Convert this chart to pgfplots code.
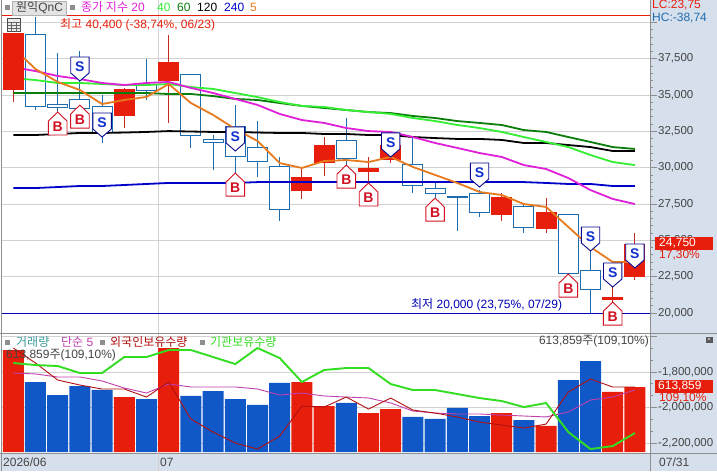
\documentclass[border=0pt]{standalone}
\usepackage{fontspec}
\usepackage{pgfplots}
\pgfplotsset{compat=1.18}
\setmainfont{Liberation Sans}
\newfontfamily\kr{Noto Sans CJK KR}
\definecolor{cred}{HTML}{E81E0C}
\definecolor{wred}{HTML}{C42A20}
\definecolor{cblue}{HTML}{1E6CB0}
\definecolor{vblue}{HTML}{1058C8}
\definecolor{barbg}{HTML}{D5E0EC}
\definecolor{gridc}{HTML}{D2D2D2}
\definecolor{framec}{HTML}{8E8E8E}
\definecolor{txtc}{HTML}{444444}
\definecolor{ma5}{HTML}{E87A1E}
\definecolor{ma20}{HTML}{E020D8}
\definecolor{ma40}{HTML}{33EE33}
\definecolor{ma60}{HTML}{0A7D0A}
\definecolor{ma240}{HTML}{0000C8}
\definecolor{smark}{HTML}{0A0A90}
\definecolor{sglyph}{HTML}{1030D0}
\definecolor{bmark}{HTML}{D01020}
\definecolor{teal2}{HTML}{3A9A9A}
\definecolor{purp}{HTML}{C040B0}
\definecolor{dred}{HTML}{B01010}
\definecolor{lgreen}{HTML}{33DD22}
\definecolor{navyl}{HTML}{0000B4}
% trade markers: the tip sits on the data point
\pgfdeclareplotmark{sellS}{%
  \pgfpathmoveto{\pgfpoint{0pt}{0pt}}%
  \pgfpathlineto{\pgfpoint{9.2pt}{8pt}}%
  \pgfpathlineto{\pgfpoint{9.2pt}{24pt}}%
  \pgfpathlineto{\pgfpoint{-9.2pt}{24pt}}%
  \pgfpathlineto{\pgfpoint{-9.2pt}{8pt}}%
  \pgfpathclose\pgfusepathqfillstroke
  \pgftext[at=\pgfpoint{0pt}{14.5pt}]{\color{sglyph}\fontsize{14}{14}\selectfont\bfseries S}%
}
\pgfdeclareplotmark{buyB}{%
  \pgfpathmoveto{\pgfpoint{0pt}{0pt}}%
  \pgfpathlineto{\pgfpoint{9.3pt}{-9pt}}%
  \pgfpathlineto{\pgfpoint{9.3pt}{-23pt}}%
  \pgfpathlineto{\pgfpoint{-9.3pt}{-23pt}}%
  \pgfpathlineto{\pgfpoint{-9.3pt}{-9pt}}%
  \pgfpathclose\pgfusepathqfillstroke
  \pgftext[at=\pgfpoint{0pt}{-14.5pt}]{\color{bmark}\fontsize{14}{14}\selectfont\bfseries B}%
}
% index, body top, body bottom, high, low
\newcommand{\RC}[5]{%
  \pgfmathsetmacro\xL{#1-0.47}\pgfmathsetmacro\xR{#1+0.47}%
  \addplot[wred,line width=1pt,forget plot] coordinates {(#1,#4)(#1,#5)};
  \addplot[fill=cred,draw=none,forget plot] coordinates {(\xL,#2)(\xR,#2)(\xR,#3)(\xL,#3)} --cycle;
}
\newcommand{\BC}[5]{%
  \pgfmathsetmacro\xL{#1-0.45}\pgfmathsetmacro\xR{#1+0.45}%
  \addplot[cblue,line width=1pt,forget plot] coordinates {(#1,#4)(#1,#5)};
  \addplot[fill=white,draw=cblue,line width=1pt,forget plot] coordinates {(\xL,#2)(\xR,#2)(\xR,#3)(\xL,#3)} --cycle;
}
\pgfplotsset{
  chartbase/.style={
    at={(1.5pt,#1)},anchor=south west,scale only axis,width=648.5pt,
    xmin=-0.5315,xmax=28.68,
    axis line style={draw=none},
    xtick={6.53},xticklabels={},
    xtick style={draw=none},
    ytick style={draw=framec,line width=0.8pt},
    major tick length=7pt,minor tick length=3pt,
    tick align=outside,
    ytick pos=right,yticklabel pos=right,
    yticklabel style={font=\fontsize{11.5}{12}\selectfont,text=txtc,inner xsep=1pt},
    scaled y ticks=false,
    /pgf/number format/.cd,1000 sep={,},assume math mode=true,
    /pgfplots/.cd,
    grid style={gridc,line width=0.9pt},
  },
}
\begin{document}
\begin{tikzpicture}[x=1pt,y=1pt]
\path[use as bounding box] (0,0) rectangle (717,-471);
\fill[white] (0,0) rectangle (717,-471);
\fill[barbg] (650,0) rectangle (717,-471);
\fill[barbg] (0,-453) rectangle (717,-471);

%---------- price panel
\begin{axis}[chartbase={-333pt},height=333pt,
  ymin=18624,ymax=41541,
  ytick={20000,22500,25000,27500,30000,32500,35000,37500,40000},
  yticklabels={{20,000},{22,500},{25,000},{27,500},{30,000},{32,500},{35,000},{37,500},{}},
  minor y tick num=4,
  xmajorgrids,ymajorgrids,
]
\addplot[cred,line width=1pt,forget plot] coordinates {(-0.6,40450)(28.7,40450)};
\addplot[navyl,line width=1pt,forget plot] coordinates {(-0.6,20000)(28.7,20000)};
\RC{0}{39250}{35350}{39250}{34500}
\BC{1}{39200}{34200}{40400}{33950}
\BC{2}{34350}{34150}{37900}{33850}
\BC{3}{34700}{34100}{38050}{33750}
\BC{4}{34200}{32450}{35000}{31700}
\RC{5}{35400}{33550}{35500}{32750}
\BC{6}{35750}{35300}{37500}{34650}
\RC{7}{37250}{35950}{39150}{33100}
\BC{8}{36400}{32200}{36400}{31350}
\BC{9}{31950}{31750}{32250}{29850}
\BC{10}{32850}{30750}{34300}{29650}
\BC{11}{31400}{30400}{33200}{29350}
\BC{12}{30100}{27150}{30750}{26350}
\RC{13}{29350}{28400}{29950}{27850}
\RC{14}{31550}{30300}{32100}{29450}
\BC{15}{31850}{30600}{33400}{30200}
\RC{16}{29950}{29700}{30750}{28950}
\RC{17}{31550}{30550}{32400}{30300}
\BC{18}{30250}{28800}{32100}{28250}
\BC{19}{28550}{28200}{29000}{27900}
\BC{20}{28050}{27950}{28050}{25650}
\BC{21}{28250}{26900}{28450}{26600}
\RC{22}{28000}{26750}{28250}{26350}
\BC{23}{27300}{25900}{27550}{25500}
\RC{24}{26950}{25800}{27900}{25500}
\BC{25}{26750}{22750}{26750}{22700}
\BC{26}{22900}{21650}{25000}{20000}
\RC{27}{21100}{20900}{21800}{20000}
\RC{28}{24750}{22500}{25500}{22250}
% moving averages
\addplot[ma240,line width=1.8pt] coordinates {(0,28600)(1,28600)(2,28670)(3,28740)(4,28740)(5,28810)(6,28880)(7,28950)(8,28950)(9,28950)(10,28950)(11,29010)(12,29010)(13,29010)(14,29010)(15,29010)(16,29010)(17,29010)(18,29010)(19,29010)(20,29010)(21,29010)(22,29010)(23,29010)(24,28950)(25,28880)(26,28880)(27,28740)(28,28740)};
\addplot[black,line width=1.8pt] coordinates {(0,32250)(1,32250)(2,32320)(3,32390)(4,32390)(5,32420)(6,32460)(7,32520)(8,32490)(9,32460)(10,32460)(11,32420)(12,32390)(13,32390)(14,32320)(15,32320)(16,32250)(17,32250)(18,32110)(19,32040)(20,31980)(21,31980)(22,31910)(23,31700)(24,31700)(25,31560)(26,31420)(27,31150)(28,31150)};
\addplot[ma60,line width=1.8pt] coordinates {(0,35140)(1,35140)(2,35140)(3,35140)(4,35140)(5,35140)(6,35140)(7,35070)(8,35070)(9,34930)(10,34730)(11,34660)(12,34450)(13,34250)(14,34110)(15,33970)(16,33830)(17,33760)(18,33560)(19,33420)(20,33210)(21,33080)(22,32940)(23,32590)(24,32460)(25,32110)(26,31770)(27,31420)(28,31290)};
\addplot[ma40,line width=1.8pt] coordinates {(0.48,36100)(1,36030)(2,35830)(3,35830)(4,35760)(5,35690)(6,35690)(7,35760)(8,35550)(9,35420)(10,35140)(11,34860)(12,34520)(13,34250)(14,34180)(15,33970)(16,33830)(17,33700)(18,33420)(19,33210)(20,32940)(21,32730)(22,32460)(23,32110)(24,31770)(25,31420)(26,30870)(27,30390)(28,30180)};
\addplot[ma20,line width=1.8pt] coordinates {(0.48,36790)(1,36650)(2,36310)(3,36100)(4,35830)(5,35690)(6,35830)(7,35900)(8,35490)(9,35140)(10,34730)(11,34320)(12,33700)(13,33280)(14,33080)(15,32730)(16,32520)(17,32460)(18,32110)(19,31700)(20,31360)(21,31010)(22,30740)(23,30180)(24,29910)(25,29290)(26,28460)(27,27850)(28,27500)};
\addplot[ma5,line width=1.8pt] coordinates {(0.48,37550)(1,36790)(2,35900)(3,35350)(4,34380)(5,34660)(6,34870)(7,35760)(8,34450)(9,33630)(10,32660)(11,31840)(12,30320)(13,29980)(14,30460)(15,30530)(16,30390)(17,30740)(18,30050)(19,29500)(20,28950)(21,28330)(22,28120)(23,27500)(24,27300)(25,25920)(26,24540)(27,23510)(28,23510)};
% buy / sell markers
\addplot[only marks,mark=buyB,mark options={draw=bmark,fill=white,line width=0.9pt}] coordinates {(2,33830)(3,34310)(10,29630)(15,30180)(16,28950)(19,27910)(25,22680)(27,20750)};
\addplot[only marks,mark=sellS,mark options={draw=smark,fill=white,line width=0.9pt}] coordinates {(3,35970)(4,32110)(10,31150)(17,30740)(21,28670)(26,24270)(27,21790)(28,23100)};
\end{axis}

%---------- volume panel: grid and scale
\begin{axis}[chartbase={-453pt},height=120pt,
  ymin=-2256000,ymax=-1580260,
  ytick={-2200000,-2000000,-1800000,-1600000},
  yticklabels={{-2,200,000},{-2,000,000},{-1,800,000},{}},
  minor y tick num=2,
  xmajorgrids,ymajorgrids,
]
\end{axis}
%---------- volume bars and their average
\begin{axis}[chartbase={-453pt},height=120pt,
  ymin=-9444,ymax=1123836,
  ytick=\empty,
]
\addplot[ybar,bar width=21pt,bar shift=0pt,fill=vblue,draw=none] coordinates {(1,661000)(2,538000)(3,623000)(4,586000)(6,500000)(8,529000)(9,576000)(10,500000)(11,444000)(12,652000)(15,463000)(18,331000)(19,312000)(20,416000)(21,340000)(23,302000)(25,680000)(26,859000)};
\addplot[ybar,bar width=21pt,bar shift=0pt,fill=cred,draw=none] coordinates {(0,963000)(5,519000)(7,982000)(13,661000)(14,434000)(16,368000)(17,406000)(22,368000)(24,246000)(27,567000)(28,613859)};
\addplot[purp,line width=0.9pt] coordinates {(0,746000)(1,737000)(2,708000)(3,708000)(4,671000)(5,604000)(6,557000)(7,642000)(8,614000)(9,614000)(10,614000)(11,595000)(12,538000)(13,557000)(14,529000)(15,519000)(16,510000)(17,463000)(18,387000)(19,368000)(20,359000)(21,359000)(22,349000)(23,340000)(24,331000)(25,378000)(26,491000)(27,519000)(28,586000)};
\end{axis}
%---------- holdings lines
\begin{axis}[chartbase={-453pt},height=120pt,
  ymin=-2256000,ymax=-1580260,
  ytick=\empty,
]
\addplot[dred,line width=0.9pt] coordinates {(0,-1664800)(1,-1749300)(2,-1845100)(3,-1873200)(4,-1895800)(5,-1895800)(6,-1940800)(7,-1856300)(8,-2064800)(9,-2138000)(10,-2200000)(11,-2233800)(12,-2160600)(13,-1991500)(14,-1997200)(15,-1940800)(16,-2008400)(17,-1946500)(18,-2014100)(19,-2031000)(20,-2053500)(21,-2081700)(22,-2098600)(23,-2115500)(24,-2093000)(25,-1912700)(26,-1839400)(27,-1884500)(28,-1884500)};
\addplot[lgreen,line width=1.9pt] coordinates {(0,-1749300)(1,-1760500)(2,-1766200)(3,-1805600)(4,-1805600)(5,-1715500)(6,-1715500)(7,-1676000)(8,-1676000)(9,-1715500)(10,-1754900)(11,-1664800)(12,-1721100)(13,-1856300)(14,-1788700)(15,-1777500)(16,-1777500)(17,-1867600)(18,-1901400)(19,-1901400)(20,-1923900)(21,-1946500)(22,-1963400)(23,-1997200)(24,-1974600)(25,-2138000)(26,-2233800)(27,-2216900)(28,-2143700)};
\end{axis}

%---------- frame
\draw[framec,line width=1pt] (1.5,0) -- (1.5,-471);
\draw[framec,line width=1pt] (650,0) -- (650,-471);
\draw[framec,line width=1pt] (0,-333) -- (717,-333);
\draw[framec,line width=1pt] (0,-453) -- (717,-453);
\draw[gridc,line width=0.9pt] (158.3,-453) -- (158.3,-471);

%---------- header
\tikzset{lab/.style={inner sep=0pt,anchor=west,font=\fontsize{12}{12}\selectfont}}
\fill[framec] (5,-5) rectangle (10,-10);
\draw[fill=gray!22,draw=gray!60] (12,-1) rectangle (66,-15);
\node[lab,text=txtc] at (16,-7.5) {{\kr 원익}QnC};
\fill[framec] (70,-5) rectangle (75,-10);
\node[lab,text=ma20] at (81,-7.5) {{\kr 종가 지수} 20};
\node[lab,text=ma40] at (157,-7.5) {40};
\node[lab,text=ma60] at (177,-7.5) {60};
\node[lab,text=black] at (197,-7.5) {120};
\node[lab,text=ma240] at (224,-7.5) {240};
\node[lab,text=ma5] at (250,-7.5) {5};
% table icon
\draw[black!70,fill=gray!15,line width=0.8pt] (7.5,-18.5) rectangle (20.5,-31.5);
\draw[black!60,line width=0.5pt] (7.5,-22)--(20.5,-22) (7.5,-25)--(20.5,-25) (7.5,-28)--(20.5,-28) (11.5,-22)--(11.5,-31.5) (16,-22)--(16,-31.5);
\node[lab,text=cred] at (60,-24.5) {{\kr 최고} 40,400 (-38,74\%, 06/23)};
\node[lab,text=navyl] at (411,-305) {{\kr 최저} 20,000 (23,75\%, 07/29)};

%---------- right side labels
\node[lab,text=cred] at (652,-5.5) {LC:23,75};
\node[lab,text=cblue] at (652,-18.5) {HC:-38,74};
\fill[cred] (655,-237) rectangle (713,-250);
\node[lab,text=white] at (659,-243.5) {24,750};
\node[lab,text=cred] at (659,-255.5) {17,30\%};
\fill[cred] (655,-380) rectangle (713,-393);
\node[lab,text=white] at (658,-386.5) {613,859};
\node[lab,text=cred] at (659,-398.5) {109,10\%};
\fill[gray!70!black] (705.5,-337) rectangle (712.5,-343);
\node[inner sep=0pt,text=white,font=\fontsize{6}{6}\selectfont] at (709,-340) {×};

%---------- volume panel texts
\fill[framec] (5,-340) rectangle (10,-345);
\node[lab,text=teal2] at (16,-342) {\kr 거래량};
\node[lab,text=purp] at (61,-342) {{\kr 단순} 5};
\fill[framec] (100,-340) rectangle (105,-345);
\node[lab,text=dred] at (110,-342) {\kr 외국인보유수량};
\fill[framec] (200,-340) rectangle (205,-345);
\node[lab,text=lgreen] at (210,-342) {\kr 기관보유수량};
\node[lab,text=txtc] at (6,-355) {613,859{\kr 주}(109,10\%)};
\node[lab,anchor=east,text=txtc] at (649,-341) {613,859{\kr 주}(109,10\%)};

%---------- date labels
\node[lab,text=txtc] at (3,-462) {2026/06};
\node[lab,text=txtc] at (160,-462) {07};
\node[lab,text=txtc] at (659,-462) {07/31};
\end{tikzpicture}
\end{document}
